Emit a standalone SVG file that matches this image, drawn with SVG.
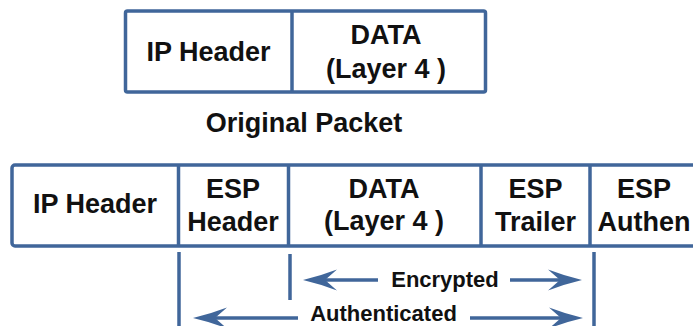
<svg xmlns="http://www.w3.org/2000/svg" width="693" height="326" viewBox="0 0 693 326">
<style>
.box{fill:#fff;stroke:#40669A;stroke-width:3.5}
.div{stroke:#40669A;stroke-width:3.5}
.ln{stroke:#40669A;stroke-width:3.5;fill:none}
.ah{fill:#40669A}
text{font-family:"Liberation Sans",Arial,sans-serif;font-weight:bold;fill:#111;text-anchor:middle}
.t{font-size:27px}
.s{font-size:22px}
</style>
<defs>
<path id="headR" d="M0,0 Q-17,-4 -34,-10.5 L-22,0 L-34,10.5 Q-17,4 0,0 Z"/>
</defs>
<rect width="693" height="326" fill="#fff"/>
<g id="original-packet">
<rect class="box" x="125.5" y="11" width="360" height="81" rx="2"/>
<line class="div" x1="292" y1="11" x2="292" y2="92"/>
<g id="orig-ip-header"><text class="t" x="208.5" y="61">IP Header</text></g>
<g id="orig-data"><text class="t" x="386" y="44">DATA</text><text class="t" x="386" y="78">(Layer 4 )</text></g>
</g>
<g id="caption"><text class="t" x="304" y="132">Original Packet</text></g>
<g id="esp-packet">
<rect class="box" x="12" y="165" width="700" height="81" rx="3"/>
<line class="div" x1="178.5" y1="165" x2="178.5" y2="246"/>
<line class="div" x1="288.5" y1="165" x2="288.5" y2="246"/>
<line class="div" x1="481" y1="165" x2="481" y2="246"/>
<line class="div" x1="590" y1="165" x2="590" y2="246"/>
<g id="esp-ip-header"><text class="t" x="95" y="213">IP Header</text></g>
<g id="esp-header"><text class="t" x="233" y="198">ESP</text><text class="t" x="233" y="231">Header</text></g>
<g id="esp-data"><text class="t" x="384" y="198">DATA</text><text class="t" x="384" y="230">(Layer 4 )</text></g>
<g id="esp-trailer"><text class="t" x="535.5" y="198">ESP</text><text class="t" x="535.5" y="231">Trailer</text></g>
<g id="esp-auth"><text class="t" x="644" y="198">ESP</text><text class="t" x="644" y="231">Authen</text></g>
</g>
<g id="connectors">
<line class="ln" x1="179" y1="252" x2="179" y2="330"/>
<line class="ln" x1="290" y1="254" x2="290" y2="300"/>
<line class="ln" x1="594" y1="252" x2="594" y2="330"/>
<line class="ln" x1="320" y1="280" x2="378" y2="280"/>
<use href="#headR" class="ah" transform="translate(303,280) rotate(180)"/>
<line class="ln" x1="510" y1="280" x2="565" y2="280"/>
<use href="#headR" class="ah" transform="translate(582,280)"/>
<line class="ln" x1="210" y1="318" x2="298" y2="318"/>
<use href="#headR" class="ah" transform="translate(193,318) rotate(180)"/>
<line class="ln" x1="470" y1="318" x2="566" y2="318"/>
<use href="#headR" class="ah" transform="translate(583,318)"/>
</g>
<g id="labels">
<text class="s" x="445" y="287">Encrypted</text>
<text class="s" x="383.5" y="321">Authenticated</text>
</g>
</svg>
